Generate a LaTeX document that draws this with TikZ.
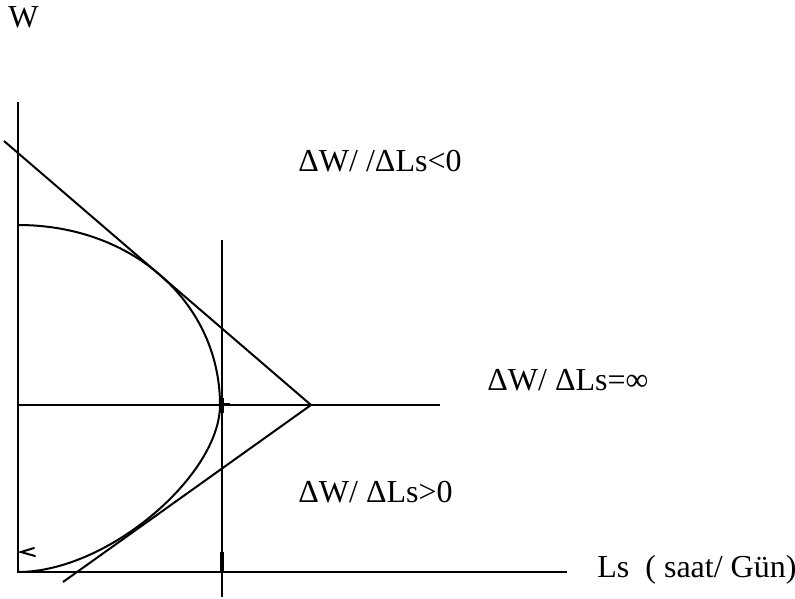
\documentclass[tikz,border=0pt]{standalone}
\usepackage{fontspec}
\setmainfont{Liberation Serif}
\tikzset{every node/.style={font=\fontsize{16}{19}\selectfont,inner sep=0pt,anchor=base west},axis/.style={line width=1pt},curve/.style={line width=1pt,smooth},tickmark/.style={line width=2pt}}

\begin{document}
\begin{tikzpicture}[x=.5pt,y=-.5pt]
\useasboundingbox (0,0) rectangle (795,598);
\coordinate (O) at (18,572);\coordinate (Wtop) at (18,102);\coordinate (Lend) at (567,572);
\coordinate (M) at (18,405);\coordinate (Mend) at (440,405);\coordinate (V) at (311,405);
\coordinate (T1) at (4,141);\coordinate (T2) at (63,582);
\coordinate (K1) at (222,240);\coordinate (K2) at (222,597);
\coordinate (C0) at (18,225);\coordinate (C1) at (220,405);
\draw[axis] (Wtop)--(O)--(Lend);
\draw[axis] (M)--(Mend);\draw[axis] (K1)--(K2);
\draw[axis] (T1)--(V)--(T2);
\draw[curve] (C0) .. controls (135,225) and (220,305) .. (C1) .. controls (220,475) and (108,572) .. (O);
\draw[tickmark] (222,398)--(222,413);\draw[axis] (222,404)--(230,404);\draw[tickmark] (222,552)--(222,572);
\draw[axis,line cap=round] (34,548)--(21,552)--(35,556);
\node (w) at (8,28) {W};
\node (neg) at (298,172) {ΔW/ /ΔLs<0};
\node (inf) at (487,390) {ΔW/ ΔLs=∞};
\node (pos) at (298,502) {ΔW/ ΔLs>0};
\node (ls) at (597,577) {Ls~ ( saat/ Gün)};
\end{tikzpicture}
\end{document}
